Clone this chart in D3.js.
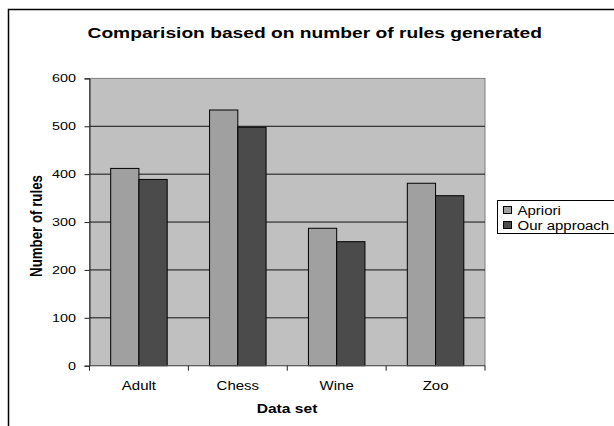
<!DOCTYPE html>
<html><head><meta charset="utf-8">
<script src="https://cdn.jsdelivr.net/npm/d3@7/dist/d3.min.js"></script>
<style>html,body{margin:0;padding:0;background:#fff;}svg{display:block;}</style>
</head><body>
<script>
const categories = ["Adult", "Chess", "Wine", "Zoo"];
const seriesNames = ["Apriori", "Our approach"];
const apriori = [412, 534, 287, 381];
const ourApproach = [389, 498, 259, 355];
const yTicks = [0, 100, 200, 300, 400, 500, 600];
const colors = ["#a0a0a0", "#4b4b4b"];

const W = 614, H = 426;
const SX = 1.25; // the picture is stretched horizontally
const svg = d3.select("body").append("svg").attr("width", W).attr("height", H);
const font = "'Liberation Sans', Arial, sans-serif";

function label(parent, x, y, txt, opts) {
  const o = Object.assign({ size: 12, weight: "normal", anchor: "middle", sx: SX, dy: null }, opts || {});
  const t = parent.append("text")
    .attr("transform", `translate(${x},${y}) scale(${o.sx},1)`)
    .attr("text-anchor", o.anchor).attr("font-family", font)
    .attr("font-size", o.size).attr("font-weight", o.weight).attr("fill", "#000").text(txt);
  if (o.dy) t.attr("dy", o.dy);
  return t;
}

// outer chart border (extends past the picture on right and bottom)
svg.append("rect").attr("x", 8.5).attr("y", 9.5).attr("width", 640).attr("height", 440)
  .attr("fill", "#fff").attr("stroke", "#000").attr("stroke-width", 1.5);

const L = 89.5, R = 485, T = 78.4, B = 365.7;
const y = d3.scaleLinear().domain([0, 600]).range([B, T]);
const p = 1.5 / 3.5;
const x = d3.scaleBand().domain(categories).range([L, R]).paddingInner(p).paddingOuter(p / 2);
const xs = d3.scaleBand().domain(seriesNames).range([0, x.bandwidth()]);

// plot area
svg.append("rect").attr("x", L).attr("y", T).attr("width", R - L).attr("height", B - T)
  .attr("fill", "#c0c0c0").attr("stroke", "#808080").attr("stroke-width", 1);

// gridlines
svg.append("g").selectAll("line").data(yTicks.filter(d => d > 0 && d < 600)).join("line")
  .attr("x1", L).attr("x2", R).attr("y1", d => y(d)).attr("y2", d => y(d))
  .attr("stroke", "#111").attr("stroke-width", 1);

// bars
const data = categories.map((c, i) => ({ c, vals: [apriori[i], ourApproach[i]] }));
const g = svg.append("g");
data.forEach(d => {
  d.vals.forEach((v, j) => {
    g.append("rect")
      .attr("x", x(d.c) + xs(seriesNames[j]))
      .attr("y", y(v))
      .attr("width", xs.bandwidth())
      .attr("height", y(0) - y(v))
      .attr("fill", colors[j]).attr("stroke", "#000").attr("stroke-width", 1);
  });
});

// y axis
const yAxis = d3.axisLeft(y).tickValues(yTicks).tickSize(5).tickFormat("");
const ya = svg.append("g").attr("transform", `translate(${L},0)`).call(yAxis);
ya.select(".domain").attr("stroke", "#222");
ya.selectAll(".tick line").attr("stroke", "#222");
ya.selectAll(".tick text").remove();
yTicks.forEach(v => label(svg, L - 13.5, y(v), String(v), { size: 11.5, anchor: "end", dy: "0.35em" }));

// x axis with ticks at category boundaries
const xa = svg.append("g").attr("transform", `translate(0,${B})`);
const bounds = d3.range(categories.length + 1).map(i => L + i * x.step());
xa.append("line").attr("x1", L).attr("x2", R).attr("stroke", "#555");
xa.selectAll(".tk").data(bounds).join("line").attr("class", "tk")
  .attr("x1", d => d).attr("x2", d => d).attr("y1", 0).attr("y2", 5).attr("stroke", "#222");
categories.forEach(c => label(svg, x(c) + x.bandwidth() / 2, B + 24.5, c, { size: 12 }));

// title
label(svg, 314.7, 37.7, "Comparision based on number of rules generated", { size: 15.5, weight: "bold", sx: 1.24 });

// axis titles
label(svg, 287, 412.5, "Data set", { size: 12.5, weight: "bold" });
svg.append("text").attr("transform", `translate(42,226) scale(${SX},1) rotate(-90)`).attr("text-anchor", "middle")
  .attr("font-family", font).attr("font-weight", "bold").attr("font-size", 13.3).attr("fill", "#000")
  .text("Number of rules");

// legend
const lg = svg.append("g").attr("transform", "translate(497.5,200.5)");
lg.append("rect").attr("width", 130).attr("height", 33).attr("fill", "#fff").attr("stroke", "#000").attr("stroke-width", 1);
seriesNames.forEach((s, j) => {
  lg.append("rect").attr("x", 6).attr("y", 6 + j * 15).attr("width", 8).attr("height", 7)
    .attr("fill", colors[j]).attr("stroke", "#000").attr("stroke-width", 1);
  label(lg, 20, 14 + j * 15, s, { size: 12, anchor: "start" });
});
</script>
</body></html>
